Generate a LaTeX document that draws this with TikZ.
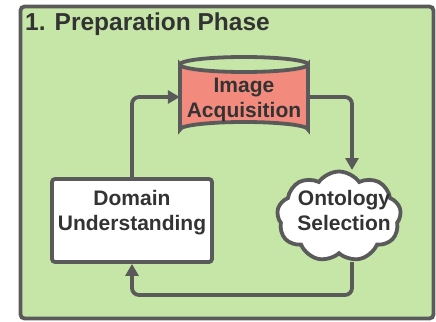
\documentclass[tikz,border=0pt]{standalone}
\usepackage{fontspec}
\setmainfont{Liberation Sans}
\usetikzlibrary{arrows.meta,shapes.symbols,calc}

\definecolor{phasegreen}{HTML}{C6E6A8}
\definecolor{edgegray}{HTML}{5A5A5A}
\definecolor{inkgray}{HTML}{333333}
\definecolor{storesalmon}{HTML}{F28B7D}

\tikzset{
  boxline/.style={draw=edgegray, line width=3.8pt},
  label/.style={text=inkgray, font=\fontsize{21}{25}\selectfont\bfseries, align=center},
  flow/.style={draw=edgegray, line width=3.8pt, rounded corners=7pt,
    -{Triangle[length=12pt,width=13pt]}},
}

\begin{document}
\begin{tikzpicture}[x=1pt,y=-1pt]
  \useasboundingbox (0,0) rectangle (436,321);

  % phase frame
  \draw[boxline, fill=phasegreen, rounded corners=4pt] (20.5,6.5) rectangle (433.5,318.5);
  \node[anchor=base west, inner sep=0pt, text=inkgray,
        font=\fontsize{24.5}{28}\selectfont\bfseries] (title) at (25,31) {1. Preparation Phase};

  % image store (cylinder)
  \node[minimum width=128pt, minimum height=80pt, inner sep=0pt] (img) at (244,97) {};
  \draw[boxline, fill=storesalmon]
    (180,64.5) -- (180,129.5) arc[start angle=180, end angle=360, x radius=64, y radius=7.5]
    -- (308,64.5) arc[start angle=0, end angle=180, x radius=64, y radius=7.5] -- cycle;
  \draw[boxline] (180,64.5) arc[start angle=180, end angle=360, x radius=64, y radius=7.5];
  \node[label] (imgtext) at (244,100) {Image\\Acquisition};

  % domain box
  \node[boxline, fill=white, rounded corners=3pt, minimum width=160pt, minimum height=83pt,
        inner sep=0pt] (dom) at (132,220.5) {};
  \node[label] (domtext) at (132,213) {Domain\\Understanding};

  % ontology cloud
  \node[boxline, fill=white, cloud, cloud puffs=9, cloud puff arc=110, aspect=1.35,
        minimum width=124pt, minimum height=90pt, inner sep=0pt] (ont) at (339,216.5) {};
  \node[label] (onttext) at (344,210) {Ontology\\Selection};

  % connectors
  \coordinate (ontin) at (352,170);
  \coordinate (ontout) at (352,262);
  \draw[flow] (dom.north) |- (img.west);
  \draw[flow] (img.east) -| (ontin);
  \draw[flow] (ontout) -- (352,295) -| (dom.south);
\end{tikzpicture}
\end{document}
